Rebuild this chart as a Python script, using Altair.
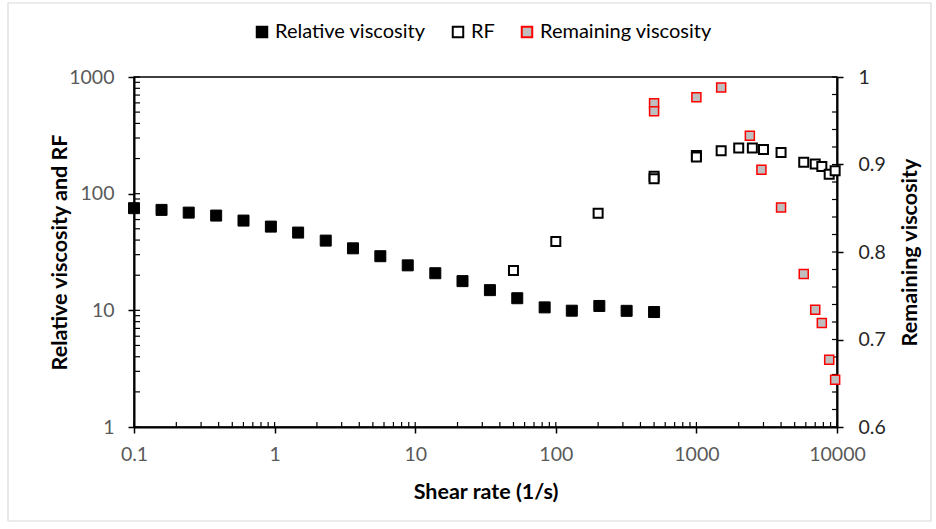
import altair as alt
import pandas as pd

# Relative viscosity vs shear rate (1/s)
shear_rel = [0.1, 0.157, 0.245, 0.384, 0.601, 0.941, 1.47, 2.31, 3.61, 5.65,
             8.85, 13.9, 21.7, 34.0, 53.2, 83.3, 130, 204, 319, 500]
rel_visc = [75.1, 72.6, 68.8, 64.9, 58.8, 52.2, 46.4, 39.6, 34.0, 29.1,
            24.3, 20.8, 17.8, 14.9, 12.7, 10.6, 9.93, 10.9, 9.9, 9.67]

# Resistance factor
shear_rf = [50, 100, 200, 500, 500, 1000, 1000, 1500, 2000, 2500, 3000, 4000,
            5800, 7000, 7800, 8800, 9700]
rf = [22, 39, 68, 141, 134, 212, 206, 233, 246, 246, 239, 225,
      186, 180, 171, 147, 157]

# Remaining viscosity (right axis)
shear_rem = [500, 500, 1000, 1500, 2400, 2900, 4000, 5800, 7000, 7800, 8800, 9700]
rem_visc = [0.970, 0.961, 0.977, 0.988, 0.933, 0.894, 0.851, 0.775, 0.734,
            0.719, 0.677, 0.654]

SERIES = ["Relative viscosity", "RF", "Remaining viscosity"]

rel_df = pd.DataFrame({"shear": shear_rel, "value": rel_visc, "series": SERIES[0]})
rf_df = pd.DataFrame({"shear": shear_rf, "value": rf, "series": SERIES[1]})
rem_df = pd.DataFrame({"shear": shear_rem, "value": rem_visc, "series": SERIES[2]})

# inner tick positions (minor and major) for the three axes
x_ticks = [d * m for d in [0.1, 1, 10, 100, 1000] for m in range(1, 10)] + [10000]
yl_ticks = [d * m for d in [1, 10, 100] for m in range(1, 10)] + [1000]
yr_ticks = [round(0.6 + 0.02 * i, 2) for i in range(21)]

W, H = 703, 350
FONT = "Lato"
LABEL_SIZE = 19.5
TITLE_SIZE = 21.5

fill_scale = alt.Scale(domain=SERIES, range=["#000000", "#ffffff", "#bfbfbf"])
stroke_scale = alt.Scale(domain=SERIES, range=["#000000", "#000000", "#ff0000"])

legend = alt.Legend(
    title=None, orient="none", legendX=118, legendY=-55, direction="horizontal",
    symbolType="square", symbolSize=110, symbolStrokeWidth=2,
    labelFontSize=20, labelFont=FONT, labelColor="#000000", labelLimit=400,
    labelOffset=3, columnPadding=22, padding=0,
)


def x_scale():
    return alt.Scale(type="log", domain=[0.1, 10000])


def yl_scale():
    return alt.Scale(type="log", domain=[1, 1000])


def yr_scale():
    return alt.Scale(type="linear", domain=[0.6, 1.0], zero=False)


x_axis = alt.Axis(
    values=[0.1, 1, 10, 100, 1000, 10000],
    labelExpr="datum.value < 1 ? format(datum.value, '.1f') : format(datum.value, 'd')",
    grid=False, domainColor="#000000", domainWidth=2, tickColor="#000000",
    tickWidth=1.5, tickSize=6, labelFontSize=LABEL_SIZE, labelFont=FONT,
    labelColor="#595959", labelPadding=12, labelFlush=False, labelOverlap=False,
    title="Shear rate (1/s)", titleFontSize=TITLE_SIZE, titleFont=FONT,
    titleFontWeight="bold", titleColor="#000000", titlePadding=18,
)

yl_axis = alt.Axis(
    values=[1, 10, 100, 1000], format="d", grid=False, domainColor="#000000",
    domainWidth=2, tickColor="#000000", tickWidth=1.5, tickSize=6,
    labelFontSize=LABEL_SIZE, labelFont=FONT, labelColor="#595959",
    labelPadding=14, labelFlush=False,
    title="Relative viscosity and RF", titleFontSize=TITLE_SIZE, titleFont=FONT,
    titleFontWeight="bold", titleColor="#000000", titlePadding=-3,
)

yr_axis = alt.Axis(
    orient="right", values=[0.6, 0.7, 0.8, 0.9, 1.0],
    labelExpr="datum.value == 1 ? '1' : format(datum.value, '.1f')",
    grid=False, domainColor="#000000", domainWidth=2, tickColor="#000000",
    tickWidth=1.5, tickSize=6, labelFontSize=LABEL_SIZE, labelFont=FONT,
    labelColor="#262626", labelPadding=15, labelFlush=False,
    title="Remaining viscosity", titleFontSize=TITLE_SIZE, titleFont=FONT,
    titleFontWeight="bold", titleColor="#000000", titleAngle=270,
    titleBaseline="top", titlePadding=14,
)


def series_layer(df, y_scale, y_axis, size, stroke_width):
    return alt.Chart(df).mark_square(
        opacity=1, size=size, strokeWidth=stroke_width
    ).encode(
        x=alt.X("shear:Q", scale=x_scale(), axis=x_axis),
        y=alt.Y("value:Q", scale=y_scale, axis=y_axis),
        fill=alt.Fill("series:N", scale=fill_scale, legend=legend),
        stroke=alt.Stroke("series:N", scale=stroke_scale, legend=legend),
    )


rel_layer = series_layer(rel_df, yl_scale(), yl_axis, 121, 1)
rf_layer = series_layer(rf_df, yl_scale(), None, 81, 2)
rem_layer = series_layer(rem_df, yr_scale(), yr_axis, 81, 1.5)

x_tick_marks = alt.Chart(pd.DataFrame({"shear": x_ticks})).mark_rule(
    color="#000000", strokeWidth=1.2
).encode(
    x=alt.X("shear:Q", scale=x_scale(), axis=x_axis),
    y=alt.value(H), y2=alt.value(H - 5),
)

yl_tick_marks = alt.Chart(pd.DataFrame({"t": yl_ticks})).mark_rule(
    color="#000000", strokeWidth=1.2
).encode(
    y=alt.Y("t:Q", scale=yl_scale(), axis=None),
    x=alt.value(0), x2=alt.value(6),
)

yr_tick_marks = alt.Chart(pd.DataFrame({"t": yr_ticks})).mark_rule(
    color="#000000", strokeWidth=1.2
).encode(
    y=alt.Y("t:Q", scale=yr_scale(), axis=None),
    x=alt.value(W), x2=alt.value(W - 5),
)

# thin grey frame around the whole figure
frame = alt.Chart(pd.DataFrame({"a": [0]})).mark_rect(
    fillOpacity=0, stroke="#d9d9d9", strokeWidth=1.2
).encode(
    x=alt.value(-126), x2=alt.value(797), y=alt.value(-74), y2=alt.value(444),
)

chart = alt.layer(
    frame, x_tick_marks, yl_tick_marks, yr_tick_marks, rel_layer, rf_layer, rem_layer
).resolve_scale(y="independent").properties(
    width=W, height=H, autosize="none",
    padding={"left": 134, "top": 77, "right": 99, "bottom": 102},
    background="#ffffff",
).configure_view(stroke="#000000", strokeWidth=1.5)

chart.save("out.html", embed_options={"renderer": "svg", "actions": False})
